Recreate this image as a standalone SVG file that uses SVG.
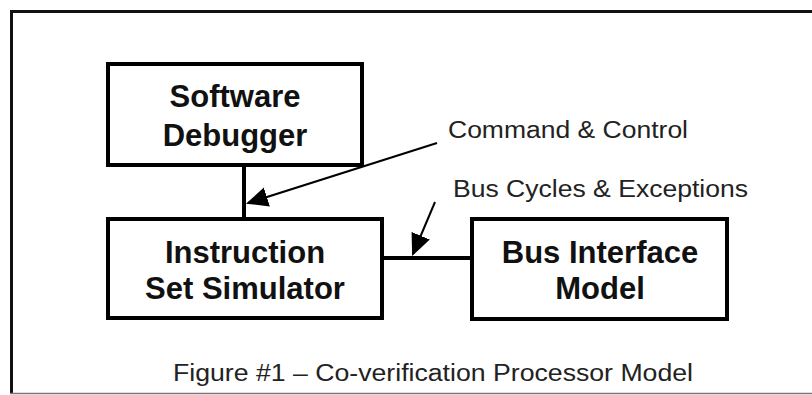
<svg xmlns="http://www.w3.org/2000/svg" width="812" height="395" viewBox="0 0 812 395">
<style>
.box{fill:#fff;stroke:#000;stroke-width:4}
.bt{font-family:"Liberation Sans",Arial,sans-serif;font-weight:bold;font-size:31px;fill:#111;text-anchor:middle}
.lb{font-family:"Liberation Sans",Arial,sans-serif;font-size:23px;fill:#222}
.conn{stroke:#000;fill:none}
</style>
<defs>
<marker id="ah" viewBox="0 0 10 10" refX="9" refY="5" markerWidth="6" markerHeight="6" orient="auto" markerUnits="userSpaceOnUse">
<path d="M0,0 L10,5 L0,10 z" fill="#000"/>
</marker>
<marker id="ah2" viewBox="0 0 10 10" refX="9" refY="5" markerWidth="22" markerHeight="22" orient="auto" markerUnits="userSpaceOnUse">
<path d="M0,0.5 L10,5 L0,9.5 z" fill="#000"/>
</marker>
</defs>
<rect width="812" height="395" fill="#fff"/>
<g id="frame">
<line x1="10" y1="11.5" x2="812" y2="11.5" stroke="#111" stroke-width="3"/>
<line x1="11.5" y1="10" x2="11.5" y2="394" stroke="#111" stroke-width="3"/>
<line x1="10" y1="393.5" x2="812" y2="393.5" stroke="#777" stroke-width="1.5"/>
</g>
<g id="connectors">
<line class="conn" x1="244" y1="165" x2="244" y2="219" stroke-width="4"/>
<line class="conn" x1="382" y1="258" x2="472" y2="258" stroke-width="4"/>
<line class="conn" x1="437" y1="143" x2="248" y2="203" stroke-width="2" marker-end="url(#ah2)"/>
<line class="conn" x1="435" y1="202" x2="413" y2="254" stroke-width="2" marker-end="url(#ah2)"/>
</g>
<g id="software-debugger">
<rect class="box" x="108" y="64" width="254" height="101"/>
<text class="bt" x="235" y="107">Software</text>
<text class="bt" x="235" y="146">Debugger</text>
</g>
<g id="instruction-set-simulator">
<rect class="box" x="108" y="219" width="274" height="99"/>
<text class="bt" x="245" y="263">Instruction</text>
<text class="bt" x="245" y="299">Set Simulator</text>
</g>
<g id="bus-interface-model">
<rect class="box" x="472" y="219" width="255" height="100"/>
<text class="bt" x="600" y="263">Bus Interface</text>
<text class="bt" x="600" y="299">Model</text>
</g>
<g id="labels">
<text class="lb" x="448" y="138" textLength="240" lengthAdjust="spacingAndGlyphs">Command &amp; Control</text>
<text class="lb" x="453" y="197" textLength="295" lengthAdjust="spacingAndGlyphs">Bus Cycles &amp; Exceptions</text>
<text class="lb" x="173" y="381" font-size="21" textLength="520" lengthAdjust="spacingAndGlyphs">Figure #1 – Co-verification Processor Model</text>
</g>
</svg>
